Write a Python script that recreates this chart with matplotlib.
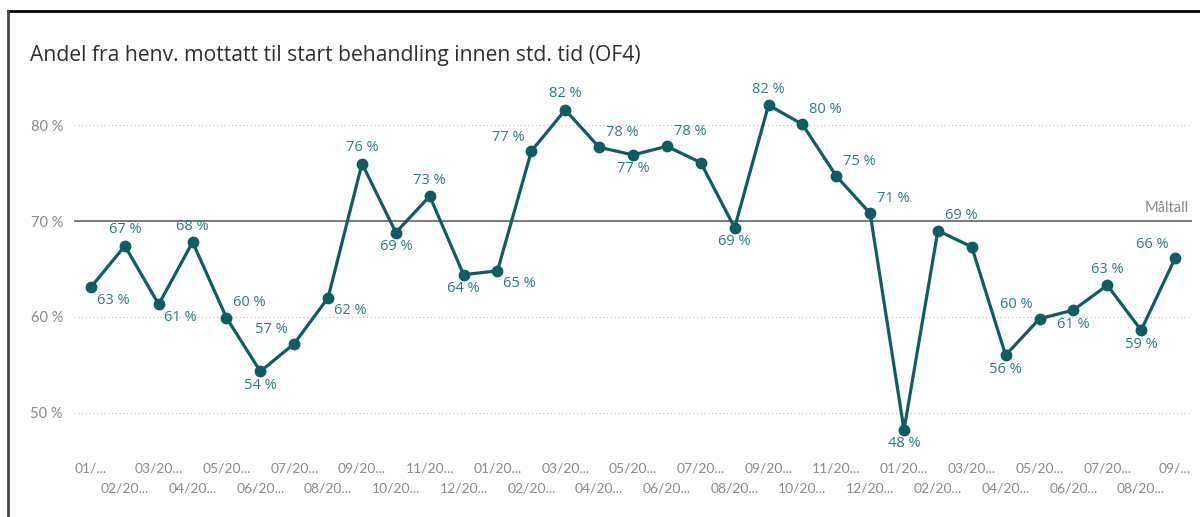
import matplotlib.pyplot as plt
from matplotlib.lines import Line2D

plt.rcParams['font.family'] = ['Lato', 'DejaVu Sans']

# data
maaneder = ['01/...', '02/20...', '03/20...', '04/20...', '05/20...', '06/20...',
            '07/20...', '08/20...', '09/20...', '10/20...', '11/20...', '12/20...',
            '01/20...', '02/20...', '03/20...', '04/20...', '05/20...', '06/20...',
            '07/20...', '08/20...', '09/20...', '10/20...', '11/20...', '12/20...',
            '01/20...', '02/20...', '03/20...', '04/20...', '05/20...', '06/20...',
            '07/20...', '08/20...', '09/...']
andel = [63.1, 67.4, 61.3, 67.8, 59.9, 54.3, 57.2, 62.0, 76.0, 68.8, 72.6, 64.4,
         64.8, 77.3, 81.6, 77.7, 76.9, 77.8, 76.1, 69.3, 82.1, 80.1, 74.7, 70.8,
         48.2, 69.0, 67.3, 56.0, 59.8, 60.7, 63.3, 58.6, 66.1]
maaltall = 70

# plassering av verdietiketter (None = ingen etikett)
plassering = ['br', 'a', 'br', 'a', 'ar', 'b', 'al', 'br', 'a', 'b', 'a', 'b',
              'br', 'al', 'a', 'ar', 'b', 'ar', None, 'b', 'a', 'ar', 'ar', 'ar',
              'b', 'ar', None, 'b', 'al', 'b', 'a', 'b', 'al']
forskyvning = {'a': (0, 16), 'b': (0, -14), 'ar': (23, 15), 'al': (-23, 14),
               'br': (22, -13), 'bl': (-22, -13)}

farge = '#0d5d62'
etikett_farge = '#2b7b80'
graa = '#8a8a8a'

fig = plt.figure(figsize=(12, 5.17), dpi=100)
ax = fig.add_axes([0.0617, 0.1296, 0.9316, 0.706])

x = list(range(len(andel)))
ax.plot(x, andel, color=farge, linewidth=2.3, marker='o', markersize=7.5, zorder=3)

for i, (v, p) in enumerate(zip(andel, plassering)):
    if p is None:
        continue
    dx, dy = forskyvning[p]
    ax.annotate(f'{round(v)} %', (i, v), xytext=(dx, dy), textcoords='offset pixels',
                ha='center', va='center', fontsize=10.5, color=etikett_farge,
                family=['Open Sans', 'DejaVu Sans'])

# måltall-linje
ax.axhline(maaltall, color='#6f6f6f', linewidth=1.3, zorder=2)
ax.text(0.997, maaltall + 0.6, 'Måltall', transform=ax.get_yaxis_transform(),
        ha='right', va='bottom', fontsize=10.5, color=graa)

ax.set_xlim(-0.5, len(andel) - 0.5)
ax.set_ylim(46.1, 84.2)
ax.set_yticks([50, 60, 70, 80])
ax.set_yticklabels([f'{t} %' for t in [50, 60, 70, 80]])
for t in [50, 60, 80]:
    ax.axhline(t, color='#c4c4c4', linewidth=0.9, linestyle=(0, (1, 2)), zorder=1)

# månedsetiketter i to rader
ax.set_xticks(x[0::2])
ax.set_xticklabels(maaneder[0::2])
ax.set_xticks(x[1::2], minor=True)
ax.set_xticklabels(maaneder[1::2], minor=True)
ax.tick_params(axis='x', which='both', length=0, labelsize=10, labelcolor=graa)
ax.tick_params(axis='x', which='major', pad=9)
ax.tick_params(axis='x', which='minor', pad=23.5)
ax.tick_params(axis='y', length=0, labelsize=10.5, labelcolor=graa, pad=8)
for s in ax.spines.values():
    s.set_visible(False)

fig.text(30 / 1200, 1 - 55 / 517, 'Andel fra henv. mottatt til start behandling innen std. tid (OF4)',
         fontsize=15.2, color='#2f2f2f', va='center', ha='left',
         family=['Open Sans', 'DejaVu Sans'])

# ramme oppe og til venstre
fig.add_artist(Line2D([8 / 1200, 1], [1 - 11 / 517, 1 - 11 / 517], color='black', linewidth=2))
fig.add_artist(Line2D([8 / 1200, 8 / 1200], [0, 1 - 11 / 517], color='#444444', linewidth=2))

fig.savefig('out.png', dpi=100)
